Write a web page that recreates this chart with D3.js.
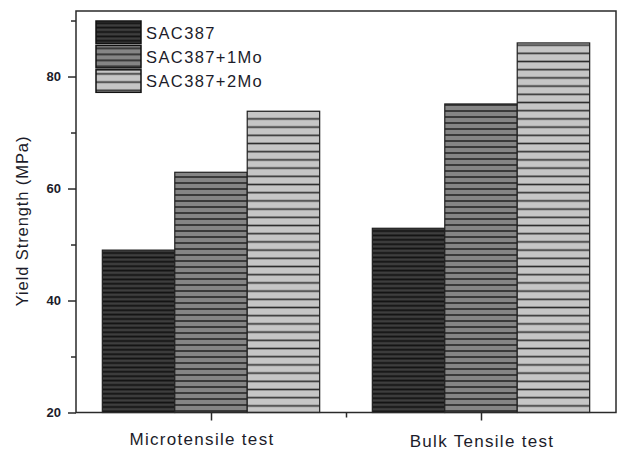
<!DOCTYPE html>
<html>
<head>
<meta charset="utf-8">
<script src="https://cdn.jsdelivr.net/npm/d3@7/dist/d3.min.js"></script>
<style>
  body { margin: 0; background: #fff; }
  text { font-family: "Liberation Sans", Arial, sans-serif; fill: #1c1c2a; }
</style>
</head>
<body>
<div id="chart"></div>
<script>
// data
const categories = ["Microtensile test", "Bulk Tensile test"];
const seriesNames = ["SAC387", "SAC387+1Mo", "SAC387+2Mo"];
const sac387 = [49, 52.9];
const sac387Mo1 = [62.9, 75.1];
const sac387Mo2 = [73.8, 86.0];
const yTicks = [20, 40, 60, 80];
const yMinorTicks = [30, 50, 70, 90];

const seriesValues = [sac387, sac387Mo1, sac387Mo2];

const width = 619, height = 451;
const frame = { left: 76, top: 11, right: 616, bottom: 412.5 };

const svg = d3.select("#chart").append("svg")
  .attr("width", width)
  .attr("height", height);

// hatch patterns: fill colour, line colour, line spacing
const hatch = [
  { id: "h0", fill: "#3e3e3e", line: "#121212", gap: 4.4, sw: 1.8 },
  { id: "h1", fill: "#858585", line: "#262626", gap: 6, sw: 1.6 },
  { id: "h2", fill: "#c6c6c6", line: "#2e2e2e", gap: 8.2, sw: 1.6 }
];
const defs = svg.append("defs");
hatch.forEach((h) => {
  const p = defs.append("pattern")
    .attr("id", h.id)
    .attr("patternUnits", "userSpaceOnUse")
    .attr("width", 8)
    .attr("height", h.gap);
  p.append("rect").attr("width", 8).attr("height", h.gap).attr("fill", h.fill);
  p.append("line")
    .attr("x1", 0).attr("x2", 8)
    .attr("y1", h.gap / 2).attr("y2", h.gap / 2)
    .attr("stroke", h.line)
    .attr("stroke-width", h.sw);
});

const x = d3.scaleLinear().domain([0.5, 2.5]).range([frame.left, frame.right]);
const y = d3.scaleLinear().domain([20, 91.7]).range([frame.bottom, frame.top]);

const groupWidth = 0.805;
const barW = groupWidth / seriesNames.length;

// bars
seriesValues.forEach((vals, s) => {
  svg.append("g").selectAll("rect")
    .data(vals)
    .enter()
    .append("rect")
    .attr("x", (d, i) => x(i + 1 - groupWidth / 2 + s * barW))
    .attr("width", x(barW) - x(0))
    .attr("y", (d) => y(d))
    .attr("height", (d) => y(20) - y(d))
    .attr("fill", "url(#" + hatch[s].id + ")")
    .attr("stroke", "#202020")
    .attr("stroke-width", 1.2);
});

// frame
svg.append("rect")
  .attr("x", frame.left).attr("y", frame.top)
  .attr("width", frame.right - frame.left)
  .attr("height", frame.bottom - frame.top)
  .attr("fill", "none")
  .attr("stroke", "#2a2a2a")
  .attr("stroke-width", 1.5);

// y axis
const yAxis = svg.append("g").attr("transform", `translate(${frame.left},0)`);
yAxis.call(d3.axisLeft(y).tickValues(yTicks).tickSize(8).tickPadding(7).tickFormat(d3.format("d")));
yAxis.append("g").call(d3.axisLeft(y).tickValues(yMinorTicks).tickSize(5).tickFormat(""));
yAxis.selectAll(".domain").remove();
yAxis.selectAll("line").attr("stroke", "#2a2a2a").attr("stroke-width", 1.5);
yAxis.selectAll("text")
  .attr("font-size", 13)
  .attr("font-weight", "bold")
  .attr("fill", "#2a2420")
  .style("font-family", "Liberation Sans, Arial, sans-serif");

// x axis
const xAxis = svg.append("g").attr("transform", `translate(0,${frame.bottom})`);
xAxis.call(d3.axisBottom(x).tickValues([1, 2]).tickSize(8).tickFormat(""));
xAxis.append("g").call(d3.axisBottom(x).tickValues([1.5]).tickSize(5).tickFormat(""));
xAxis.selectAll(".domain").remove();
xAxis.selectAll("line").attr("stroke", "#2a2a2a").attr("stroke-width", 1.5);

// category labels sit slightly off their ticks in the original
const labelShift = [-9, 1];
svg.append("g").selectAll("text")
  .data(categories)
  .enter()
  .append("text")
  .attr("x", (d, i) => x(i + 1) + labelShift[i])
  .attr("y", (d, i) => 445 + i * 2)
  .attr("text-anchor", "middle")
  .attr("font-size", 17)
  .attr("letter-spacing", 1.3)
  .text((d) => d);

// y label
svg.append("text")
  .attr("transform", "translate(28,221) rotate(-90)")
  .attr("text-anchor", "middle")
  .attr("font-size", 16.5)
  .attr("letter-spacing", 0.9)
  .text("Yield Strength (MPa)");

// legend
const legend = svg.append("g").attr("transform", "translate(96,21)");
const item = legend.selectAll("g")
  .data(seriesNames)
  .enter()
  .append("g")
  .attr("transform", (d, i) => `translate(0,${i * 24.4})`);
item.append("rect")
  .attr("width", 45)
  .attr("height", 22.5)
  .attr("fill", (d, i) => "url(#" + hatch[i].id + ")")
  .attr("stroke", "#111")
  .attr("stroke-width", 1.5);
item.append("text")
  .attr("x", 50)
  .attr("y", 17.5)
  .attr("font-size", 16.5)
  .attr("letter-spacing", 1.4)
  .text((d) => d);
</script>
</body>
</html>
